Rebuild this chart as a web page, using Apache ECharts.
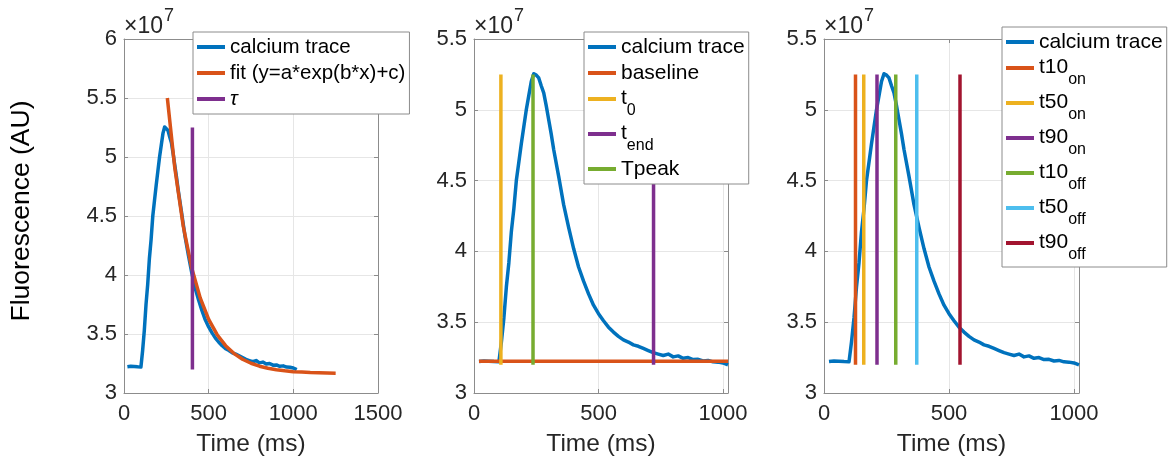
<!DOCTYPE html>
<html>
<head>
<meta charset="utf-8">
<script src="https://cdn.jsdelivr.net/npm/echarts@6/dist/echarts.min.js"></script>
<style>
  html, body { margin: 0; padding: 0; background: #fff; }
  #chart { width: 1173px; height: 462px; }
</style>
</head>
<body>
<div id="chart"></div>
<script>
// ---------------- DATA (fluorescence in units of 1e7) ----------------
const traceTime = [20, 40, 60, 80, 100, 110, 120, 130, 140, 150, 160, 170, 180, 190, 200, 210, 220, 230, 240, 250,
  260, 270, 280, 290, 300, 310, 320, 340, 360, 380, 400, 420, 440, 460, 480, 500, 520, 540, 560, 580,
  600, 620, 640, 660, 680, 700, 720, 740, 760, 780, 800, 820, 840, 860, 880, 900, 920, 940, 960, 980, 1000, 1020];
const traceValue = [3.222, 3.226, 3.225, 3.222, 3.220, 3.36, 3.53, 3.75, 3.92, 4.14, 4.30, 4.50, 4.63, 4.76, 4.88, 5.00, 5.10, 5.20, 5.255, 5.245,
  5.225, 5.17, 5.12, 5.03, 4.93, 4.83, 4.72, 4.53, 4.33, 4.17, 4.02, 3.89, 3.79, 3.70, 3.62, 3.56, 3.51, 3.465, 3.43, 3.40,
  3.375, 3.36, 3.34, 3.33, 3.315, 3.30, 3.285, 3.275, 3.265, 3.275, 3.255, 3.262, 3.245, 3.25, 3.236, 3.238, 3.226, 3.23, 3.22, 3.218, 3.212, 3.198];

const fitTime  = [256, 300, 350, 400, 450, 500, 550, 600, 650, 700, 750, 800, 850, 900, 950, 1000, 1050, 1100, 1150, 1200, 1250];
const fitValue = [5.50, 4.906, 4.413, 4.059, 3.806, 3.624, 3.494, 3.401, 3.334, 3.286, 3.252, 3.227, 3.2095, 3.197, 3.188, 3.181, 3.177, 3.173, 3.171, 3.169, 3.168];

const tauTime = 404;
const baselineValue = 3.225;
const markerLow = 3.20, markerHigh = 5.25;

const panel2Names = ['t0', 'tend', 'Tpeak'];
const panel2Times = [108, 721, 237];

const panel3Names = ['t10on', 't50on', 't90on', 't10off', 't50off', 't90off'];
const panel3Times = [126, 159, 212, 287, 371, 544];

const xTicksStep = 500;
const yTicksStep = 0.5;
const panelXMax = [1500, 1020, 1020];
const panelYMax = [6, 5.5, 5.5];
const yMin = 3;

// ---------------- STYLE ----------------
const C = {
  blue: '#0072BD', orange: '#D95319', yellow: '#EDB120', purple: '#7E2F8E',
  green: '#77AC30', cyan: '#4DBEEE', red: '#A2142F'
};
const panel2Colors = [C.yellow, C.purple, C.green];
const panel3Colors = [C.orange, C.yellow, C.purple, C.green, C.cyan, C.red];
const FONT = 'Liberation Sans, Arial, Helvetica, sans-serif';
const TXT = '#262626';
const AX = '#8c8c8c';
const GRID = '#e6e6e6';
const LW = 3.5;

const grids = [
  { left: 124, top: 39, width: 254, height: 357 },
  { left: 474, top: 39, width: 254, height: 357 },
  { left: 824, top: 39, width: 255, height: 357 }
];

const xAxis = [], yAxis = [];
grids.forEach((g, i) => {
  const common = { type: 'value', gridIndex: i, min: 0, max: panelXMax[i], interval: xTicksStep,
    axisLine: { show: true, onZero: false, lineStyle: { color: AX, width: 1 } },
    axisTick: { show: true, inside: true, length: 4, lineStyle: { color: AX } } };
  xAxis.push(Object.assign({}, common, {
    position: 'bottom',
    axisLabel: { show: true, margin: 10, fontSize: 22, fontFamily: FONT, color: TXT,
      formatter: v => (v % xTicksStep === 0 ? String(v) : '') },
    splitLine: { show: true, lineStyle: { color: GRID, width: 1 } },
    name: 'Time (ms)', nameLocation: 'middle', nameGap: 39,
    nameTextStyle: { fontSize: 24.5, fontFamily: FONT, color: TXT, verticalAlign: 'top' }
  }));
  xAxis.push(Object.assign({}, common, {
    position: 'top', axisLabel: { show: false }, splitLine: { show: false }
  }));
  const ycommon = { type: 'value', gridIndex: i, min: yMin, max: panelYMax[i], interval: yTicksStep,
    axisLine: { show: true, onZero: false, lineStyle: { color: AX, width: 1 } },
    axisTick: { show: true, inside: true, length: 4, lineStyle: { color: AX } } };
  yAxis.push(Object.assign({}, ycommon, {
    position: 'left',
    axisLabel: { show: true, margin: 7, fontSize: 22, fontFamily: FONT, color: TXT },
    splitLine: { show: true, lineStyle: { color: GRID, width: 1 } },
    name: '{b|×10}{s|7}', nameLocation: 'end', nameGap: 1,
    nameTextStyle: { align: 'left', verticalAlign: 'bottom', color: TXT, fontFamily: FONT,
      rich: {
        b: { fontSize: 23, fontFamily: FONT, color: TXT, lineHeight: 24, verticalAlign: 'bottom' },
        s: { fontSize: 18, fontFamily: FONT, color: TXT, lineHeight: 18, padding: [0, 0, 13, 1], verticalAlign: 'bottom' }
      } }
  }));
  yAxis.push(Object.assign({}, ycommon, {
    position: 'right', axisLabel: { show: false }, splitLine: { show: false }
  }));
});

function lineSeries(name, data, color, panel, z) {
  return {
    type: 'line', name, data, xAxisIndex: panel * 2, yAxisIndex: panel * 2,
    symbol: 'none', showSymbol: false, animation: false, clip: true, z: z || 2,
    lineStyle: { color, width: LW, cap: 'butt', join: 'round' }, itemStyle: { color },
    emphasis: { disabled: true }
  };
}
const pairs = (xs, ys) => xs.map((x, k) => [x, ys[k]]);
const vline = t => [[t, markerLow], [t, markerHigh]];

const series = [];
// panel 1
series.push(lineSeries('calcium trace', pairs(traceTime, traceValue), C.blue, 0));
series.push(lineSeries('fit (y=a*exp(b*x)+c)', pairs(fitTime, fitValue), C.orange, 0, 3));
series.push(lineSeries('τ', vline(tauTime), C.purple, 0, 3));
// panel 2
series.push(lineSeries('calcium trace', pairs(traceTime, traceValue), C.blue, 1));
series.push(lineSeries('baseline', [[traceTime[0], baselineValue], [traceTime[traceTime.length - 1], baselineValue]], C.orange, 1, 3));
panel2Names.forEach((n, k) => series.push(lineSeries(n, vline(panel2Times[k]), panel2Colors[k], 1, 3)));
// panel 3
series.push(lineSeries('calcium trace', pairs(traceTime, traceValue), C.blue, 2));
panel3Names.forEach((n, k) => series.push(lineSeries(n, vline(panel3Times[k]), panel3Colors[k], 2, 3)));

const legendLabels = {
  'τ': '{i|τ}',
  't0': '{m|t}{s|0}', 'tend': '{m|t}{s|end}',
  't10on': '{m|t10}{s|on}', 't50on': '{m|t50}{s|on}', 't90on': '{m|t90}{s|on}',
  't10off': '{m|t10}{s|off}', 't50off': '{m|t50}{s|off}', 't90off': '{m|t90}{s|off}'
};
function legend(data, left, top, fs) {
  return {
    data, orient: 'vertical', left, top, selectedMode: false,
    icon: 'rect', itemWidth: 28, itemHeight: 4, itemGap: 4,
    padding: [4, 4, 4, 4], borderColor: AX, borderWidth: 1, backgroundColor: '#fff',
    formatter: n => legendLabels[n] || n,
    textStyle: { fontSize: fs, fontFamily: FONT, color: '#000', lineHeight: 22,
      rich: {
        m: { fontSize: fs, fontFamily: FONT, color: '#000', lineHeight: 22, verticalAlign: 'top' },
        s: { fontSize: 16, fontFamily: FONT, color: '#000', lineHeight: 16, padding: [15, 0, 0, 0], verticalAlign: 'top' },
        i: { fontSize: fs, fontFamily: FONT, color: '#000', lineHeight: 22, fontStyle: 'italic' }
      } },
    z: 10
  };
}

const option = {
  animation: false,
  backgroundColor: '#fff',
  grid: grids,
  xAxis, yAxis, series,
  legend: [
    legend(['calcium trace', 'fit (y=a*exp(b*x)+c)', 'τ'], 193, 32, 20.5),
    legend(['calcium trace', 'baseline', 't0', 'tend', 'Tpeak'], 584, 32, 21),
    legend(['calcium trace', 't10on', 't50on', 't90on', 't10off', 't50off', 't90off'], 1002, 27, 21)
  ],
  graphic: [{
    type: 'text', x: 22, y: 211, rotation: Math.PI / 2,
    style: { text: 'Fluorescence (AU)', fontSize: 26.5, fontFamily: FONT, fill: '#000',
      align: 'center', verticalAlign: 'middle' }
  }]
};

const chart = echarts.init(document.getElementById('chart'), null, { renderer: 'canvas' });
chart.setOption(option);
</script>
</body>
</html>
